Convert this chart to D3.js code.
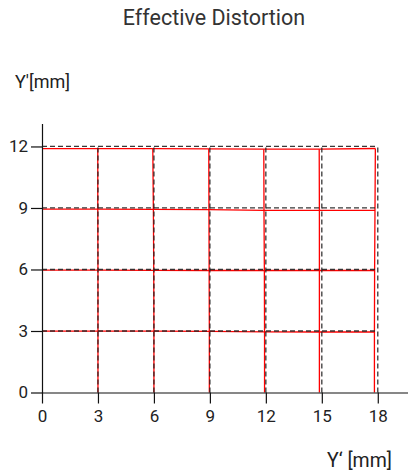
<!DOCTYPE html>
<html>
<head>
<meta charset="utf-8">
<script src="https://cdn.jsdelivr.net/npm/d3@7"></script>
<style>
  body { margin: 0; background: #fff; }
  text { font-family: Roboto, "Liberation Sans", sans-serif; }
</style>
</head>
<body>
<script>
// nominal grid (ideal image positions, mm)
var nominalX = [0, 3, 6, 9, 12, 15, 18];
var nominalY = [0, 3, 6, 9, 12];
var xTicks = [0, 3, 6, 9, 12, 15, 18];
var yTicks = [0, 3, 6, 9, 12];

// distorted grid points, one row per nominal Y, one column per nominal X
var distortedX = [
  [0, 3.00, 6.00, 8.97, 11.93, 14.87, 17.82],
  [0, 3.00, 6.00, 8.97, 11.93, 14.87, 17.82],
  [0, 3.00, 5.99, 8.96, 11.92, 14.87, 17.83],
  [0, 2.99, 5.97, 8.95, 11.90, 14.87, 17.85],
  [0, 2.99, 5.94, 8.94, 11.89, 14.86, 17.87]
];
var distortedY = [
  [0, 0, 0, 0, 0, 0, 0],
  [2.99, 2.99, 2.99, 2.98, 2.96, 2.95, 2.95],
  [5.97, 5.97, 5.96, 5.95, 5.95, 5.95, 5.95],
  [8.94, 8.94, 8.93, 8.92, 8.88, 8.88, 8.88],
  [11.89, 11.89, 11.89, 11.88, 11.87, 11.87, 11.90]
];

var width = 408, height = 476;

var svg = d3.select("body").append("svg")
  .attr("width", width)
  .attr("height", height);

//scales
var x = d3.scaleLinear().domain([0, 19.62]).range([42, 408]);
var y = d3.scaleLinear().domain([0, 13.12]).range([392.5, 123.5]);

var line = d3.line()
  .x(function(d) { return x(d[0]); })
  .y(function(d) { return y(d[1]); });

// distorted grid (red) - the zero row/column sit under the axes
var red = svg.append("g").attr("class", "distorted")
  .attr("fill", "none").attr("stroke", "#ff0000").attr("stroke-width", 1.3);

nominalY.forEach(function(v, j) {
  if (v == 0) return;
  var pts = nominalX.map(function(u, i) { return [distortedX[j][i], distortedY[j][i]]; });
  red.append("path").attr("d", line(pts));
});
nominalX.forEach(function(u, i) {
  if (u == 0) return;
  var pts = nominalY.map(function(v, j) { return [distortedX[j][i], distortedY[j][i]]; });
  red.append("path").attr("d", line(pts));
});

// nominal grid (dashed)
var dash = svg.append("g").attr("class", "nominal")
  .attr("fill", "none").attr("stroke", "#222").attr("stroke-opacity", 0.9)
  .attr("stroke-width", 1.3).attr("stroke-dasharray", "5,3");

nominalY.forEach(function(v) {
  if (v == 0) return;
  dash.append("path").attr("d", line([[0, v], [d3.max(nominalX), v]]));
});
nominalX.forEach(function(u) {
  if (u == 0) return;
  dash.append("path").attr("d", line([[u, 0], [u, d3.max(nominalY)]]));
});

// axes
var xAxis = svg.append("g")
  .attr("transform", "translate(0," + y(0) + ")")
  .call(d3.axisBottom(x).tickValues(xTicks).tickSize(11).tickSizeOuter(0).tickPadding(6));

var yAxis = svg.append("g")
  .attr("transform", "translate(" + x(0) + ",0)")
  .call(d3.axisLeft(y).tickValues(yTicks).tickSize(11).tickSizeOuter(0).tickPadding(3));

svg.selectAll(".domain, .tick line").attr("stroke", "#111").attr("stroke-width", 1.2);
svg.selectAll(".tick text").attr("fill", "#222").attr("font-size", 17)
  .attr("font-family", "Roboto, 'Liberation Sans', sans-serif");

// titles
svg.append("text")
  .attr("x", 214).attr("y", 25)
  .attr("text-anchor", "middle")
  .attr("font-size", 21.5).attr("fill", "#333")
  .text("Effective Distortion");

svg.append("text")
  .attr("x", 15).attr("y", 88)
  .attr("font-size", 18).attr("fill", "#222")
  .text("Y'[mm]");

svg.append("text")
  .attr("x", 392).attr("y", 467)
  .attr("text-anchor", "end")
  .attr("font-size", 19.5).attr("fill", "#222")
  .text("Y\u2018 [mm]");
</script>
</body>
</html>
